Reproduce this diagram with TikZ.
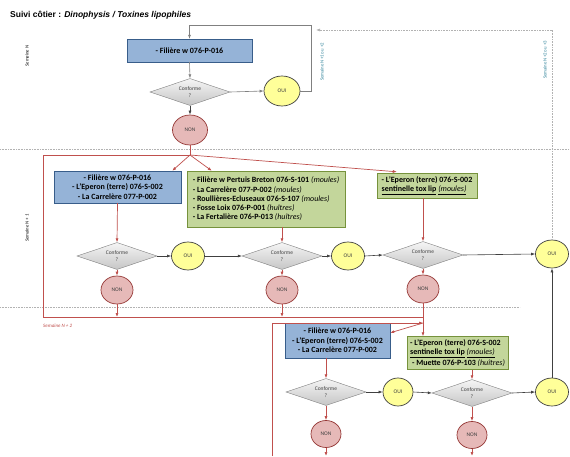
\documentclass[tikz,border=0pt]{standalone}
\usepackage{fontspec}
\setmainfont{Carlito}
\newfontfamily\arialf{Liberation Sans}
\usetikzlibrary{shapes.geometric,arrows.meta,calc}
\newcommand\fsz[2]{\fontsize{#1}{#2}\selectfont}
\definecolor{bluefill}{RGB}{149,179,215}
\definecolor{blueline}{RGB}{56,93,138}
\definecolor{greenfill}{RGB}{195,214,155}
\definecolor{greenline}{RGB}{118,146,60}
\definecolor{ouifill}{RGB}{255,255,153}
\definecolor{nonfill}{RGB}{230,185,184}
\definecolor{nonline}{RGB}{149,55,53}
\definecolor{redline}{RGB}{192,80,77}
\definecolor{darkline}{RGB}{64,64,64}
\definecolor{grayline}{RGB}{128,128,128}
\definecolor{labelblue}{RGB}{49,132,155}
\begin{document}
\begin{tikzpicture}[x=1pt,y=-1pt,
  tip/.style={-{Latex[length=4pt,width=3pt]}},
  bbox/.style={draw=blueline,fill=bluefill,font=\fsz{8}{9.3}\bfseries,align=center,inner sep=0pt},
  gbox/.style={draw=greenline,fill=greenfill,font=\fsz{8}{9.3}\bfseries,align=left,inner sep=0pt},
  dia/.style={shape=diamond,aspect=3,draw=grayline,top color=gray!8,bottom color=gray!45,
    minimum width=80,minimum height=27,inner sep=0pt,font=\fsz{5.5}{6.5},text=darkline,align=center},
  oui/.style={shape=ellipse,draw=darkline,line width=0.7pt,fill=ouifill,minimum width=33,minimum height=28,inner sep=0pt,font=\fsz{5.5}{6.5},text=darkline},
  non/.style={shape=ellipse,draw=nonline,line width=0.7pt,fill=nonfill,minimum width=32,minimum height=28,inner sep=0pt,font=\fsz{5.5}{6.5},text=darkline},
  dk/.style={draw=darkline,line width=0.6pt,tip},
  gl/.style={draw=grayline,line width=0.6pt},
  rl/.style={draw=redline,line width=0.7pt},
  sep/.style={draw=gray!60,densely dotted,line width=0.6pt},
  wk/.style={font=\fsz{4.8}{5}\itshape,rotate=90},
  wkb/.style={font=\fsz{4.8}{5},text=labelblue,rotate=90}
]
\useasboundingbox (0,0) rectangle (570,457);
\fill[white] (0,0) rectangle (570,457);

% title
\node[anchor=west,inner sep=0pt,font=\arialf\fsz{8.5}{9}\bfseries] (title) at (10,15)
  {Suivi côtier : \textit{Dinophysis / Toxines lipophiles}};

% separators
\draw[sep] (0,149) -- (570,149);
\draw[sep] (0,307) -- (520,307);

% week labels
\node[wk] (wN) at (27,56) {Semaine N};
\node[wk] (wN1) at (27,228) {Semaine N + 1};
\node[font=\fsz{5}{5}\itshape,text=redline,anchor=west,inner sep=0pt] (wN2) at (43,326) {Semaine N + 2};
\node[wkb] (l1) at (322,62) {Semaine N+1 ou +2};
\node[wkb] (l2) at (545,60) {Semaine N+2 ou +3};

% ---- Week N
\node[bbox,minimum width=125,minimum height=23] (tb) at (189.5,50.5) {- Filière w 076-P-016};
\node[dia] (d1) at (190,92) {Conforme\\?};
\node[oui,minimum width=36,minimum height=30] (oui1) at (282,91) {OUI};
\node[non,minimum width=35,minimum height=30] (non1) at (190,130) {NON};

\coordinate (c1) at (311,25);
\draw[gl,tip] (oui1.east) -| (c1) -| (tb.north);
\draw[gl,tip] (tb.south) -- (d1.north);
\draw[gl,tip] (d1.east) -- (oui1.west);
\draw[dk] (d1.south) -- (non1.north);

% ---- Week N+1
\node[bbox,minimum width=127,minimum height=32] (bb2) at (117.5,187)
  {- Filière w 076-P-016\\- L’Eperon (terre) 076-S-002\\- La Carrelère 077-P-002};
\node[gbox,minimum width=158,minimum height=56] (gb2) at (266,199)
  {- Filière w Pertuis Breton 076-S-101 {\mdseries\itshape (moules)}\\
   - La Carrelère 077-P-002 {\mdseries\itshape (moules)}\\
   - Roullières-Ecluseaux 076-S-107 {\mdseries\itshape (moules)}\\
   - Fosse Loix 076-P-001 {\mdseries\itshape (huîtres)}\\
   - La Fertalière 076-P-013 {\mdseries\itshape (huîtres)}};
\node[gbox,minimum width=100,minimum height=25] (gb3) at (427,185.5)
  {- L’Eperon (terre) 076-S-002\\
   \underline{sentinelle tox lip} \underline{{\mdseries\itshape (moules)}}};

\node[dia] (dA) at (117,256) {Conforme\\?};
\node[oui] (ouiA) at (188,256) {OUI};
\node[dia] (dB) at (282,256) {Conforme\\?};
\node[oui] (ouiB) at (348,256) {OUI};
\node[dia] (dC) at (423,255) {Conforme\\?};
\node[oui] (ouiC) at (552,254) {OUI};
\node[non] (nonA) at (117,290) {NON};
\node[non] (nonB) at (282,290) {NON};
\node[non] (nonC) at (423,289) {NON};

\draw[dk] (dA.east) -- (ouiA.west);
\draw[dk] (ouiA.east) -- (dB.west);
\draw[dk] (dB.east) -- (ouiB.west);
\draw[dk] (ouiB.east) -- (dC.west);
\draw[dk] (dC.east) -- (ouiC.west);

\draw[rl,tip] (bb2.south) -- (dA.north);
\draw[rl,tip] (gb2.south -| dB) -- (dB.north);
\draw[rl,tip] (gb3.south -| dC) -- (dC.north);
\draw[rl,tip] (dA.south) -- (nonA.north);
\draw[rl,tip] (dB.south) -- (nonB.north);
\draw[rl,tip] (dC.south) -- (nonC.north);

% dashed return
\coordinate (c2) at (316,30);
\draw[sep,tip] (ouiC.north) |- (c2);

% red network
\coordinate (j) at (190,155);
\coordinate (r2) at (43,317);
\coordinate (r3) at (423,317);
\draw[rl] (non1.south) -- (j);
\draw[rl] (j) -| (r2) -- (r3);
\draw[rl,tip] (j) -- ($(bb2.north east)+(-9,0)$);
\draw[rl,tip] (j) -- ($(gb2.north west)+(25,0)$);
\draw[rl,tip] (j) -- ($(gb3.north west)+(20,-1)$);
\draw[rl,tip] (nonA.south) -- (nonA.south |- r2);
\draw[rl,tip] (nonB.south) -- (nonB.south |- r2);

% ---- Week N+2
\node[bbox,minimum width=105,minimum height=35] (bb3) at (337.5,340.5)
  {- Filière w 076-P-016\\- L’Eperon (terre) 076-S-002\\- La Carrelère 077-P-002};
\node[gbox,minimum width=101,minimum height=33] (gb4) at (457.5,353)
  {- L’Eperon (terre) 076-S-002\\
   \underline{sentinelle tox lip} \underline{{\mdseries\itshape (moules)}}\\[1.5pt]
   \hspace*{2pt}- Muette 076-P-103 {\mdseries\itshape (huîtres)}};

\draw[rl,tip] (nonC.south) -- (nonC.south |- gb4.north);

\coordinate (b1) at (272,456);
\coordinate (k) at (423,323);
\draw[rl,tip] (b1) |- (k);
\draw[rl,tip] (k) -- ($(bb3.north east)+(0,10)$);

\node[dia] (dD) at (326,392) {Conforme\\?};
\node[oui,minimum width=30] (ouiD) at (398,392) {OUI};
\node[dia] (dE) at (472,393) {Conforme\\?};
\node[oui] (ouiE) at (552,392) {OUI};
\node[non,minimum width=30,minimum height=27] (nonD) at (326,434) {NON};
\node[non,minimum width=30,minimum height=27] (nonE) at (472,435) {NON};

\draw[dk] (dD.east) -- (ouiD.west);
\draw[dk] (ouiD.east) -- (dE.west);
\draw[dk] (dE.east) -- (ouiE.west);
\draw[dk] (ouiE.north) -- (ouiC.south);

\draw[rl,tip] (bb3.south -| dD) -- (dD.north);
\draw[rl,tip] (gb4.south -| dE) -- (dE.north);
\draw[rl,tip] (dD.south) -- (nonD.north);
\draw[rl,tip] (dE.south) -- (nonE.north);
\draw[rl,tip] (nonD.south) -- (nonD.south |- b1);
\draw[rl,tip] (nonE.south) -- (nonE.south |- b1);
\end{tikzpicture}
\end{document}
